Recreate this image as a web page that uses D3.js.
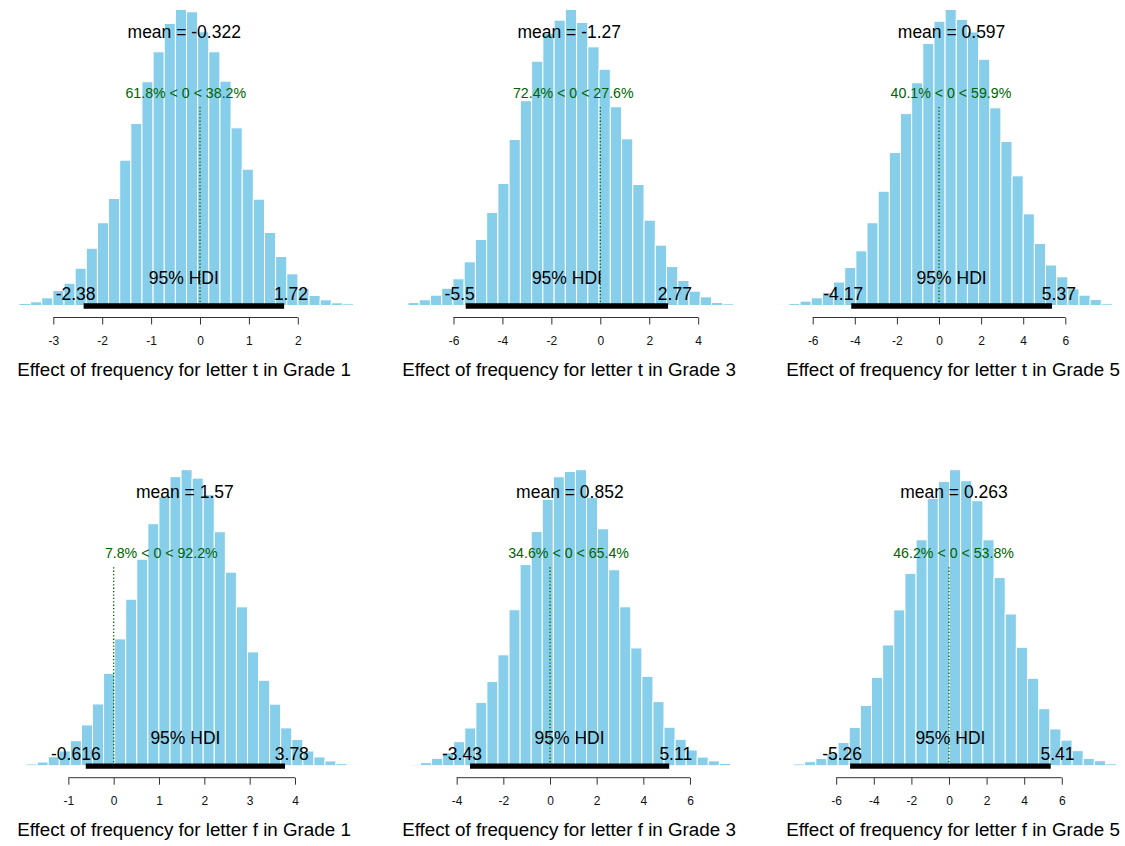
<!DOCTYPE html>
<html><head><meta charset="utf-8">
<script src="https://cdn.jsdelivr.net/npm/d3@7"></script>
<style>
body{margin:0;background:#fff}
svg{display:block;background:#fff}
text{font-family:"Liberation Sans",Arial,Helvetica,sans-serif}
</style>
</head><body>
<svg id="chart" width="1125" height="846"></svg>
<script>
// ---------------- data ----------------
const titles = [
  "Effect of frequency for letter t in Grade 1",
  "Effect of frequency for letter t in Grade 3",
  "Effect of frequency for letter t in Grade 5",
  "Effect of frequency for letter f in Grade 1",
  "Effect of frequency for letter f in Grade 3",
  "Effect of frequency for letter f in Grade 5"
];
const means    = [-0.322, -1.27, 0.597, 1.57, 0.852, 0.263];
const hdiLow   = [-2.38, -5.5, -4.17, -0.616, -3.43, -5.26];
const hdiHigh  = [1.72, 2.77, 5.37, 3.78, 5.11, 5.41];
const pctBelow = [61.8, 72.4, 40.1, 7.8, 34.6, 46.2];
const pctAbove = [38.2, 27.6, 59.9, 92.2, 65.4, 53.8];
const compVal  = 0;
const credMass = 95;
const sampleMin = [-3.92, -8.32, -7.66, -2.177, -6.5, -8.865];
const sampleMax = [3.307, 5.844, 8.68, 5.361, 8.144, 9.45];
// histogram densities per bin (bin width = HDI width / 18, starting at sample min)
const densT1 = [0.0004,0.0026,0.0048,0.0100,0.0195,0.0290,0.0485,0.0745,0.1076,0.1392,0.1890,0.2367,0.2910,0.3300,0.3668,0.3850,0.3820,0.3560,0.3300,0.2918,0.2311,0.1773,0.1383,0.0950,0.0637,0.0412,0.0221,0.0130,0.0074,0.0035,0.0022,0.0004];
const densT3 = [0.0002,0.0019,0.0037,0.0067,0.0112,0.0173,0.0283,0.0428,0.0603,0.0791,0.1076,0.1327,0.1583,0.1763,0.1849,0.1918,0.1834,0.1676,0.1531,0.1288,0.1080,0.0784,0.0553,0.0391,0.0253,0.0162,0.0093,0.0056,0.0019,0.0011,0.0006];
const densT5 = [0.0004,0.0011,0.0025,0.0044,0.0074,0.0134,0.0217,0.0312,0.0472,0.0652,0.0873,0.1095,0.1271,0.1495,0.1622,0.1689,0.1633,0.1561,0.1405,0.1128,0.0936,0.0740,0.0523,0.0354,0.0231,0.0164,0.0095,0.0059,0.0034,0.0010,0.0006];
const densF1 = [0.0004,0.0021,0.0045,0.0110,0.0180,0.0306,0.0499,0.0756,0.1131,0.1552,0.2037,0.2527,0.2961,0.3295,0.3537,0.3622,0.3519,0.3316,0.2863,0.2368,0.1944,0.1393,0.1045,0.0753,0.0463,0.0321,0.0180,0.0107,0.0058,0.0025,0.0012];
const densF3 = [0.0002,0.0008,0.0019,0.0047,0.0083,0.0153,0.0240,0.0403,0.0536,0.0706,0.0993,0.1281,0.1492,0.1696,0.1840,0.1874,0.1885,0.1709,0.1509,0.1248,0.1012,0.0750,0.0569,0.0408,0.0245,0.0168,0.0100,0.0055,0.0031,0.0015,0.0004];
const densF5 = [0.0002,0.0009,0.0021,0.0038,0.0062,0.0121,0.0199,0.0313,0.0459,0.0627,0.0809,0.0999,0.1173,0.1388,0.1476,0.1537,0.1480,0.1376,0.1173,0.0977,0.0788,0.0615,0.0454,0.0296,0.0191,0.0133,0.0078,0.0038,0.0026,0.0010,0.0002];
const densities = [densT1, densT3, densT5, densF1, densF3, densF5];
const tickValues = [
  [-3,-2,-1,0,1,2],
  [-6,-4,-2,0,2,4],
  [-6,-4,-2,0,2,4,6],
  [-1,0,1,2,3,4],
  [-4,-2,0,2,4,6],
  [-6,-4,-2,0,2,4,6]
];
// visible x range of each panel column (value at left / right edge)
const xlims = [[-4.090,3.579],[-9.207,6.118],[-8.979,8.836],[-2.508,5.765],[-7.501,8.573],[-10.585,9.362]];

// ---------------- layout ----------------
const colW = 375, rowH = 460.2;
const colCenters = [184, 569, 953];
const baseY = 305.5, peakPx = 296, axisY = 317.5;
const barFill = "#87CEEB", green = "#006400";
const fontIn = 17.5;

const svg = d3.select("#chart");

titles.forEach((title, i) => {
  const col = i % 3, row = Math.floor(i / 3);
  const g = svg.append("g").attr("transform", `translate(0,${row * rowH})`);
  const x = d3.scaleLinear().domain(xlims[i]).range([col * colW, col * colW + colW]);
  const dens = densities[i];
  const maxD = d3.max(dens);
  const y = d3.scaleLinear().domain([0, maxD]).range([baseY, baseY - peakPx]);
  const bw = (hdiHigh[i] - hdiLow[i]) / 18;
  const bins = dens.map((d, k) => ({
    x0: sampleMin[i] + k * bw,
    x1: Math.min(sampleMin[i] + (k + 1) * bw, sampleMax[i]),
    d
  }));

  // bars
  g.selectAll("rect.bar").data(bins).join("rect")
    .attr("class", "bar")
    .attr("x", b => x(b.x0))
    .attr("width", b => x(b.x1) - x(b.x0))
    .attr("y", b => y(b.d))
    .attr("height", b => y(0) - y(b.d))
    .attr("fill", barFill)
    .attr("stroke", "#fff")
    .attr("stroke-width", 1);

  // mean text
  g.append("text")
    .attr("x", x(means[i]))
    .attr("y", y(0.9 * maxD) - 1.4)
    .attr("text-anchor", "middle")
    .style("font-size", fontIn + "px")
    .attr("fill", "#000")
    .text("mean = " + String(means[i]));

  // comparison value line + text
  const cvHt = 0.7 * maxD;
  g.append("line")
    .attr("x1", x(compVal)).attr("x2", x(compVal))
    .attr("y1", y(0)).attr("y2", y(0.96 * cvHt))
    .attr("stroke", green).attr("stroke-width", 1.3)
    .attr("stroke-dasharray", "1.3,2.1");
  const cvText = g.append("text")
    .attr("x", x(compVal))
    .attr("y", y(cvHt))
    .style("font-size", "14.2px")
    .attr("fill", green)
    .text(`${pctBelow[i]}% < ${compVal} < ${pctAbove[i]}%`);
  const wcv = cvText.node().getComputedTextLength();
  cvText.attr("x", x(compVal) - (pctBelow[i] / 100) * wcv);

  // HDI bar
  g.append("line")
    .attr("x1", x(hdiLow[i])).attr("x2", x(hdiHigh[i]))
    .attr("y1", baseY + 0.5).attr("y2", baseY + 0.5)
    .attr("stroke", "#000").attr("stroke-width", 5.3)
    .attr("stroke-linecap", "butt");

  g.append("text")
    .attr("x", x((hdiLow[i] + hdiHigh[i]) / 2))
    .attr("y", baseY - 21.4)
    .attr("text-anchor", "middle")
    .style("font-size", fontIn + "px")
    .text(credMass + "% HDI");

  const lo = g.append("text")
    .attr("y", baseY - 5.7)
    .style("font-size", fontIn + "px")
    .text(String(hdiLow[i]));
  lo.attr("x", x(hdiLow[i]) - 0.7 * lo.node().getComputedTextLength());
  const hi = g.append("text")
    .attr("y", baseY - 5.7)
    .style("font-size", fontIn + "px")
    .text(String(hdiHigh[i]));
  hi.attr("x", x(hdiHigh[i]) - 0.3 * hi.node().getComputedTextLength());

  // axis
  const ticks = tickValues[i];
  const axis = d3.axisBottom(x).tickValues(ticks).tickSize(7).tickFormat(d => String(d));
  const ag = g.append("g").attr("transform", `translate(0,${axisY})`).call(axis);
  ag.attr("font-family", null).attr("font-size", null);
  ag.select(".domain").remove();
  ag.append("line")
    .attr("x1", x(ticks[0])).attr("x2", x(ticks[ticks.length - 1]))
    .attr("stroke", "#333").attr("stroke-width", 1);
  ag.selectAll(".tick line").attr("stroke", "#333");
  ag.selectAll(".tick text")
    .attr("y", 27).attr("dy", null)
    .attr("fill", "#111")
    .style("font-size", "12px");

  // axis title
  g.append("text")
    .attr("x", colCenters[col])
    .attr("y", 376)
    .attr("text-anchor", "middle")
    .style("font-size", "18.8px")
    .text(title);
});
</script>
</body></html>
